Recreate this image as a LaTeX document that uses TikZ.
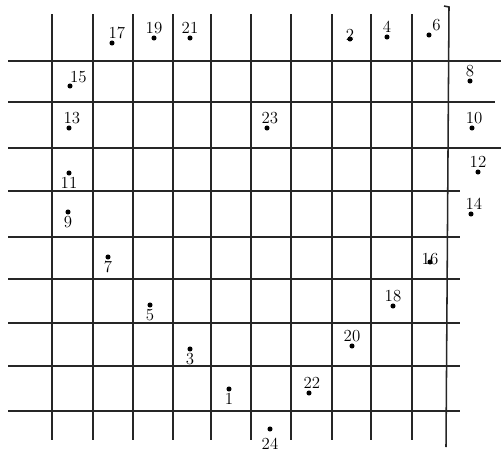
\documentclass[tikz,border=0pt]{standalone}
\usepackage{tikz}
\usetikzlibrary{positioning}

\begin{document}
\begin{tikzpicture}[
    x=0.025cm, y=-0.025cm,
    rule/.style={line width=1.1pt, black!85},
    dot/.style={circle, fill=black, inner sep=0pt, minimum size=3.6pt},
    num/.style={font=\large, inner sep=1pt},
    every label/.style={num}
]
\useasboundingbox (0,0) rectangle (501,454);

% Rows
\foreach \y in {61,148} \draw[rule] (8,\y) -- (501,\y);
\draw[rule] (8,102) -- (495,102);
\foreach \y in {191,237,279,323,366,411} \draw[rule] (8,\y) -- (460,\y);

% Columns
\foreach \x in {52,93,133,173,211,251,291,332,371,412} \draw[rule] (\x,14) -- (\x,440);
\draw[rule] (444,6) -- (449,7) -- (446,447);

% Odd numbers
\node[dot, label=below:1] (d1) at (229,389) {};
\node[dot, label=below:3] (d3) at (190,349) {};
\node[dot, label=below:5] (d5) at (150,305) {};
\node[dot, label=below:7] (d7) at (108,257) {};
\node[dot, label=below:9] (d9) at (68,212) {};
\node[dot, label=below:11] (d11) at (69,173) {};
\node[dot, label={[xshift=2pt]above:13}] (d13) at (69,128) {};
\node[dot, label={[xshift=6pt, yshift=-1pt]above:15}] (d15) at (70,86) {};
\node[dot, label={[xshift=3.5pt]above:17}] (d17) at (112,43) {};
\node[dot, label=above:19] (d19) at (154,38) {};
\node[dot, label=above:21] (d21) at (190,38) {};
\node[dot, label={[xshift=2pt]above:23}] (d23) at (267,128) {};

% Even numbers
\node[dot, label={[label distance=-4pt]above:2}] (d2) at (350,39) {};
\node[dot, label=above:4] (d4) at (387,37) {};
\node[dot, label=50:6] (d6) at (429,35) {};
\node[dot, label=above:8] (d8) at (470,81) {};
\node[dot, label={[xshift=1.5pt]above:10}] (d10) at (472,128) {};
\node[dot, label=above:12] (d12) at (478,172) {};
\node[dot, label={[xshift=2pt]above:14}] (d14) at (471,214) {};
\node[dot, label={[label distance=-5pt]above:16}] (d16) at (430,262) {};
\node[dot, label=above:18] (d18) at (393,306) {};
\node[dot, label=above:20] (d20) at (352,346) {};
\node[dot, label={[xshift=2pt]above:22}] (d22) at (309,393) {};
\node[dot, label={[label distance=3pt]below:24}] (d24) at (270,429) {};

\end{tikzpicture}
\end{document}
